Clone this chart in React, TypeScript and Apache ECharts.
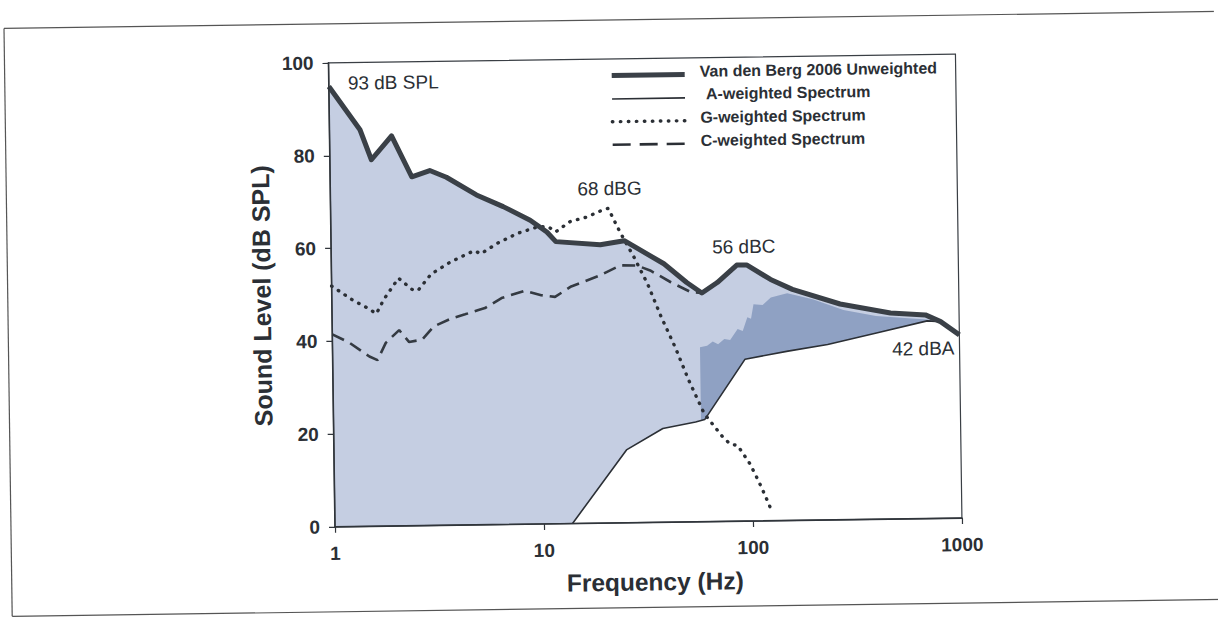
import React, { useEffect, useRef } from "react";
import * as echarts from "echarts";

// ---- data (Hz, dB SPL) ----
const unweightedFreq = [1, 1.4, 1.58, 1.98, 2.46, 3.0, 3.6, 5.0, 6.7, 9.0, 10.8, 11.9, 19.4, 25.3, 39, 50, 59, 70, 87, 97, 126, 160, 270, 470, 690, 815, 1000];
const unweightedDb = [94.9, 85.5, 79.0, 84.1, 75.2, 76.5, 75.0, 71.1, 68.5, 65.5, 62.9, 60.8, 60.0, 60.8, 55.7, 51.6, 49.3, 51.5, 55.2, 55.2, 52.0, 49.8, 46.5, 44.4, 43.9, 42.4, 39.5];

const aFreq = [13.7, 25.1, 37.6, 54, 59.7, 94, 151, 234, 406, 703, 815, 1000];
const aDb = [0, 15.7, 20.2, 21.5, 22.0, 34.9, 36.5, 37.8, 40.2, 42.6, 42.4, 39.5];

const gFreq = [1, 1.25, 1.5, 1.63, 1.77, 2.09, 2.46, 2.6, 3.0, 3.74, 4.84, 5.2, 6.24, 7.8, 9.9, 11.0, 11.9, 14.0, 16.8, 20.1, 21.3, 24.2, 28.1, 32.5, 37.6, 43.6, 50.4, 59.4, 72.6, 78.5, 85.5, 97.4, 106.8, 114, 124];
const gDb = [51.9, 48.9, 46.9, 45.8, 48.8, 53.4, 50.7, 50.8, 54.2, 56.8, 59.1, 58.4, 60.6, 62.7, 64.1, 64.0, 62.9, 65.1, 66.0, 67.5, 67.8, 62.6, 57.2, 51.4, 44.2, 37.7, 30.5, 23.3, 18.2, 16.7, 16.3, 12.4, 8.7, 5.8, 1.8];

const cFreq = [1, 1.2, 1.5, 1.64, 1.8, 2.09, 2.33, 2.69, 3.06, 3.74, 4.33, 5.02, 5.4, 6.49, 8.37, 10.05, 11.7, 14.0, 18.8, 24.2, 29, 33.5, 42, 52.4, 59];
const cDb = [41.5, 39.7, 36.6, 35.8, 39.5, 42.2, 39.6, 40.1, 42.9, 44.6, 45.4, 46.3, 46.7, 48.8, 50.3, 49.3, 48.9, 51.1, 53.2, 55.5, 55.4, 54.3, 51.7, 49.5, 49.3];

// darker shaded band (upper edge) above the A-weighted curve
const bandFreq = [57.3, 62, 66, 70, 75, 80, 87, 92, 97, 101, 104, 115, 126, 140, 151, 200, 280, 400, 550, 700, 815];
const bandDb = [37.6, 37.9, 38.8, 38.2, 39.3, 39.1, 41.4, 41.0, 43.9, 43.6, 46.7, 46.5, 48.1, 48.6, 49.0, 47.6, 45.2, 43.8, 43.3, 42.9, 42.4];

const xTicks = [1, 10, 100, 1000];
const xTickLabels = ["1", "10", "100", "1000"];
const yTicks = [0, 20, 40, 60, 80, 100];

const seriesNames = [
  "Van den Berg 2006 Unweighted",
  "A-weighted Spectrum",
  "G-weighted Spectrum",
  "C-weighted Spectrum",
];
const annotations = ["93 dB SPL", "68 dBG", "56 dBC", "42 dBA"];

const pairs = (f: number[], v: number[]) => f.map((x, i) => [x, v[i]]);

const FONT = "'Liberation Sans', Arial, Helvetica, sans-serif";
const INK = "#2b2f35";

export default function App() {
  const ref = useRef<HTMLDivElement>(null);

  useEffect(() => {
    if (!ref.current) return;
    const chart = echarts.init(ref.current, undefined, { renderer: "svg" });

    const legendRows = [
      { y: 75.6, ty: 72.5, tx: 703, style: { stroke: "#3a4047", lineWidth: 5 } },
      { y: 99.0, ty: 95.2, tx: 709, style: { stroke: INK, lineWidth: 1.6 } },
      { y: 121.8, ty: 118.5, tx: 703, style: { stroke: INK, lineWidth: 3.4, lineDash: [0.5, 7.5], lineCap: "round" } },
      { y: 144.8, ty: 141.8, tx: 703, style: { stroke: INK, lineWidth: 2.6, lineDash: [18, 9] } },
    ];

    const graphic: any[] = [
      // scanned page frame
      { type: "line", shape: { x1: 8, y1: 20, x2: 1240, y2: 20 }, style: { stroke: "#555", lineWidth: 1.2 }, silent: true },
      { type: "line", shape: { x1: 8, y1: 20, x2: 8, y2: 608 }, style: { stroke: "#555", lineWidth: 1.2 }, silent: true },
      { type: "line", shape: { x1: 8, y1: 608, x2: 1240, y2: 608 }, style: { stroke: "#555", lineWidth: 1.2 }, silent: true },
    ];
    legendRows.forEach((r, i) => {
      graphic.push({
        type: "line",
        shape: { x1: 615, y1: r.y, x2: 688, y2: r.y },
        style: r.style,
        silent: true,
        z: 20,
      });
      graphic.push({
        type: "text",
        x: r.tx,
        y: r.ty,
        style: {
          text: seriesNames[i],
          font: `bold 16px ${FONT}`,
          fill: INK,
          textVerticalAlign: "middle",
          verticalAlign: "middle",
        },
        silent: true,
        z: 20,
      });
    });
    const annPos = [
      [351, 79.5],
      [579, 188.5],
      [713, 248.5],
      [891.5, 353],
    ];
    annotations.forEach((t, i) => {
      graphic.push({
        type: "text",
        x: annPos[i][0],
        y: annPos[i][1],
        style: {
          text: t,
          font: `19px ${FONT}`,
          fill: INK,
          verticalAlign: "middle",
          textVerticalAlign: "middle",
        },
        silent: true,
        z: 20,
      });
    });

    const axisLabel = { fontSize: 19, fontWeight: "bold", color: INK, fontFamily: FONT };

    chart.setOption({
      animation: false,
      backgroundColor: "transparent",
      grid: {
        left: 332,
        top: 59,
        width: 627,
        height: 464,
        show: true,
        borderColor: "#3a3f45",
        borderWidth: 1.2,
        backgroundColor: "transparent",
        z: 10,
      },
      xAxis: {
        type: "log",
        logBase: 10,
        min: xTicks[0],
        max: xTicks[xTicks.length - 1],
        z: 10,
        axisLine: { show: true, lineStyle: { color: "#30353b", width: 1.6 } },
        axisTick: { show: true, length: 6, lineStyle: { color: "#30353b", width: 1.2 } },
        minorTick: { show: false },
        splitLine: { show: false },
        axisLabel: {
          ...axisLabel,
          margin: 17,
          formatter: (v: number) => {
            const i = xTicks.findIndex((t) => Math.abs(t - v) / t < 1e-6);
            return i >= 0 ? xTickLabels[i] : "";
          },
        },
        name: "Frequency (Hz)",
        nameLocation: "middle",
        nameGap: 47,
        nameTextStyle: { fontSize: 24.5, fontWeight: "bold", color: INK, fontFamily: FONT, padding: [0, 0, 0, 12] },
      },
      yAxis: {
        type: "value",
        min: yTicks[0],
        max: yTicks[yTicks.length - 1],
        interval: 20,
        z: 10,
        axisLine: { show: true, lineStyle: { color: "#30353b", width: 1.6 } },
        axisTick: { show: true, length: 6, lineStyle: { color: "#30353b", width: 1.2 } },
        splitLine: { show: false },
        axisLabel: { ...axisLabel, margin: 15 },
        name: "Sound Level (dB SPL)",
        nameLocation: "middle",
        nameGap: 55,
        nameRotate: 90,
        nameTextStyle: { fontSize: 25, fontWeight: "bold", color: INK, fontFamily: FONT },
      },
      series: [
        {
          name: "fill",
          type: "line",
          data: pairs(unweightedFreq, unweightedDb),
          symbol: "none",
          silent: true,
          lineStyle: { width: 0 },
          areaStyle: { color: "#c5cee2", opacity: 1 },
        },
        {
          name: "band",
          type: "line",
          data: pairs(bandFreq, bandDb),
          symbol: "none",
          silent: true,
          lineStyle: { width: 0 },
          areaStyle: { color: "#8fa1c3", opacity: 1 },
        },
        {
          name: "below A",
          type: "line",
          data: pairs(aFreq, aDb),
          symbol: "none",
          silent: true,
          lineStyle: { width: 0 },
          areaStyle: { color: "#ffffff", opacity: 1 },
        },
        {
          name: seriesNames[1],
          type: "line",
          data: pairs(aFreq, aDb),
          symbol: "none",
          silent: true,
          lineStyle: { color: INK, width: 1.6 },
        },
        {
          name: seriesNames[2],
          type: "line",
          data: pairs(gFreq, gDb),
          symbol: "none",
          silent: true,
          lineStyle: { color: INK, width: 3.4, type: [0.5, 7.5], cap: "round" },
        },
        {
          name: seriesNames[3],
          type: "line",
          data: pairs(cFreq, cDb),
          symbol: "none",
          silent: true,
          lineStyle: { color: "#343a42", width: 2.6, type: [13, 7] },
        },
        {
          name: seriesNames[0],
          type: "line",
          data: pairs(unweightedFreq, unweightedDb),
          symbol: "none",
          silent: true,
          lineStyle: { color: "#3a4047", width: 5, join: "round" },
        },
      ],
      graphic,
    });

    return () => chart.dispose();
  }, []);

  return (
    <div
      ref={ref}
      style={{
        position: "absolute",
        left: 0,
        top: 0,
        width: 1218,
        height: 622,
        transform: "rotate(-0.8deg)",
        transformOrigin: "609px 311px",
      }}
    />
  );
}
